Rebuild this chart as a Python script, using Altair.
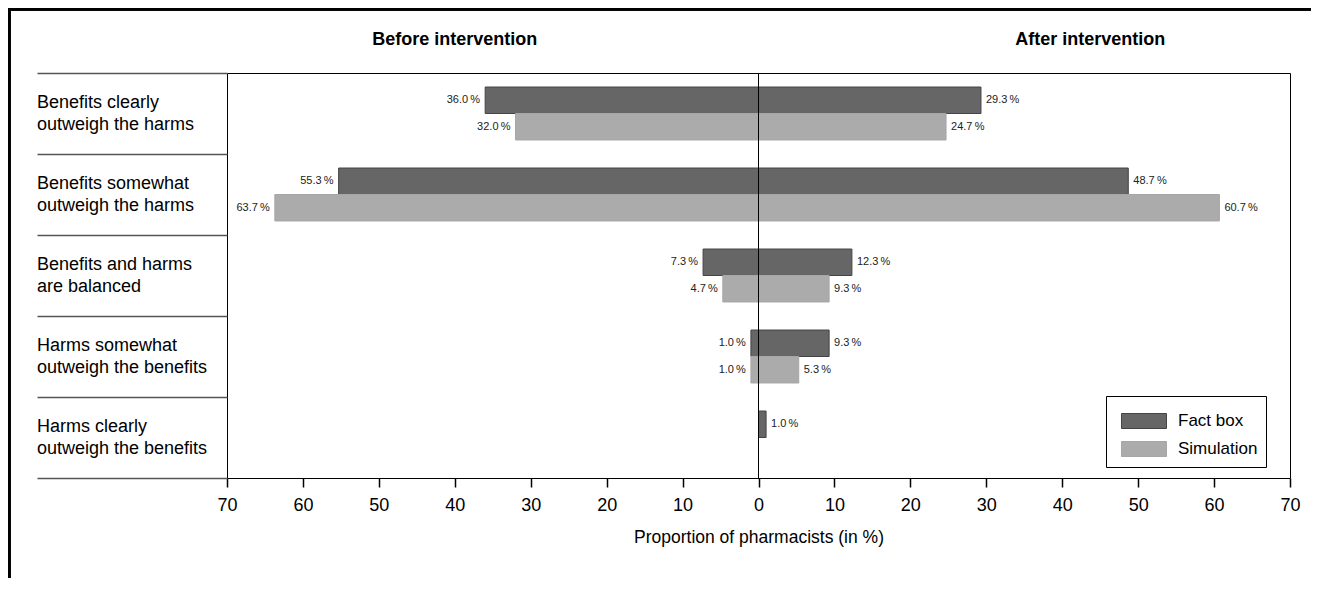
import altair as alt
import pandas as pd

categories = [
    "Benefits clearly\noutweigh the harms",
    "Benefits somewhat\noutweigh the harms",
    "Benefits and harms\nare balanced",
    "Harms somewhat\noutweigh the benefits",
    "Harms clearly\noutweigh the benefits",
]
series = ["Fact box", "Simulation"]
before_fact = [36.0, 55.3, 7.3, 1.0, None]
before_sim = [32.0, 63.7, 4.7, 1.0, None]
after_fact = [29.3, 48.7, 12.3, 9.3, 1.0]
after_sim = [24.7, 60.7, 9.3, 5.3, None]

panel_titles = ["Before intervention", "After intervention"]
panel_title_x = [-40.0, 43.7]

FONT = "Liberation Sans, Arial, Helvetica, sans-serif"

rows = []
for side, sign, fact, sim in [("before", -1, before_fact, before_sim), ("after", 1, after_fact, after_sim)]:
    for cat, f, s in zip(categories, fact, sim):
        for ser, v in [("Fact box", f), ("Simulation", s)]:
            if v is None:
                continue
            rows.append({
                "category": cat,
                "series": ser,
                "side": side,
                "value": sign * v,
                "label": f"{v:.1f}\u2009%",
            })
df = pd.DataFrame(rows)
cat_df = pd.DataFrame({"category": categories})
title_df = pd.DataFrame({"t": panel_titles, "x": panel_title_x})

x_scale = alt.Scale(domain=[-70, 70], nice=False, zero=False)
y_scale = alt.Scale(domain=categories, paddingInner=0, paddingOuter=0)
off_scale = alt.Scale(domain=series, paddingInner=0, paddingOuter=0.53)

base = alt.Chart(df)

NBSP = "\u00a0"

bars = base.mark_bar(strokeWidth=1).encode(
    x=alt.X("value:Q", scale=x_scale,
            axis=alt.Axis(values=list(range(-70, 71, 10)), labelExpr="abs(datum.value)",
                          title="Proportion of pharmacists (in %)", grid=False,
                          domain=False, tickSize=9, tickColor="black", tickWidth=1.5,
                          labelPadding=9, labelFlush=False,
                          labelFontSize=18, labelColor="black", labelFont=FONT,
                          titleFont=FONT, titleFontSize=17.5, titleFontWeight="normal",
                          titleColor="black", titlePadding=14)),
    y=alt.Y("category:N", sort=categories, scale=y_scale,
            axis=alt.Axis(labels=False, domain=False, ticks=True, tickBand="extent",
                          tickSize=190, tickColor="#555555", tickWidth=1.5, title=None,
                          grid=False)),
    yOffset=alt.YOffset("series:N", sort=series, scale=off_scale),
    color=alt.Color("series:N", sort=series,
                    scale=alt.Scale(domain=series, range=["#666666", "#ababab"]),
                    legend=alt.Legend(title=None, orient="none", legendX=879, legendY=323,
                                      strokeColor="black", padding=8, fillColor="white",
                                      symbolType="M-1.364,-0.4545H1.364V0.4545H-1.364Z",
                                      symbolSize=1089, symbolStrokeWidth=1, symbolOffset=13,
                                      labelFontSize=17, labelFont=FONT, labelColor="black",
                                      rowPadding=1, labelOffset=17,
                                      labelExpr="datum.label + '" + NBSP * 3 + "'")),
    stroke=alt.Stroke("series:N", sort=series,
                      scale=alt.Scale(domain=series, range=["#444444", "#a6a6a6"]),
                      legend=None),
)

left_labels = base.transform_filter("datum.value < 0").mark_text(
    align="right", baseline="middle", dx=-5, fontSize=11, font=FONT, color="#222222"
).encode(
    x=alt.X("value:Q", scale=x_scale),
    y=alt.Y("category:N", sort=categories, scale=y_scale),
    yOffset=alt.YOffset("series:N", sort=series, scale=off_scale),
    text="label:N",
)
right_labels = base.transform_filter("datum.value > 0").mark_text(
    align="left", baseline="middle", dx=5, fontSize=11, font=FONT, color="#222222"
).encode(
    x=alt.X("value:Q", scale=x_scale),
    y=alt.Y("category:N", sort=categories, scale=y_scale),
    yOffset=alt.YOffset("series:N", sort=series, scale=off_scale),
    text="label:N",
)

zero_rule = alt.Chart(pd.DataFrame({"z": [0]})).mark_rule(color="black", strokeWidth=1).encode(
    x=alt.X("z:Q", scale=x_scale)
)

cat_text = alt.Chart(cat_df).mark_text(
    align="left", baseline="middle", lineBreak="\n", fontSize=18, font=FONT,
    color="black", lineHeight=22, dy=-11
).encode(
    x=alt.value(-190),
    y=alt.Y("category:N", sort=categories, scale=y_scale),
    text="category:N",
)

titles = alt.Chart(title_df).mark_text(
    align="center", baseline="middle", fontSize=18, fontWeight="bold", font=FONT, color="black"
).encode(
    x=alt.X("x:Q", scale=x_scale),
    y=alt.value(-33),
    text="t:N",
)

border_left = alt.Chart(cat_df).mark_rule(color="black", strokeWidth=3).encode(
    x=alt.value(-218), y=alt.value(-65), y2=alt.value(600)
)
border_top = alt.Chart(cat_df).mark_rule(color="black", strokeWidth=3).encode(
    x=alt.value(-219), x2=alt.value(1100), y=alt.value(-64)
)

chart = alt.layer(
    bars, zero_rule, left_labels, right_labels, cat_text, titles, border_left, border_top
).properties(
    width=1063, height=405,
    padding={"left": 219, "top": 65, "right": 21, "bottom": 100},
    autosize=alt.AutoSizeParams(type="none"),
).configure_view(stroke="black", strokeWidth=1)

chart.save("out.html", embed_options={"renderer": "svg", "actions": False})
